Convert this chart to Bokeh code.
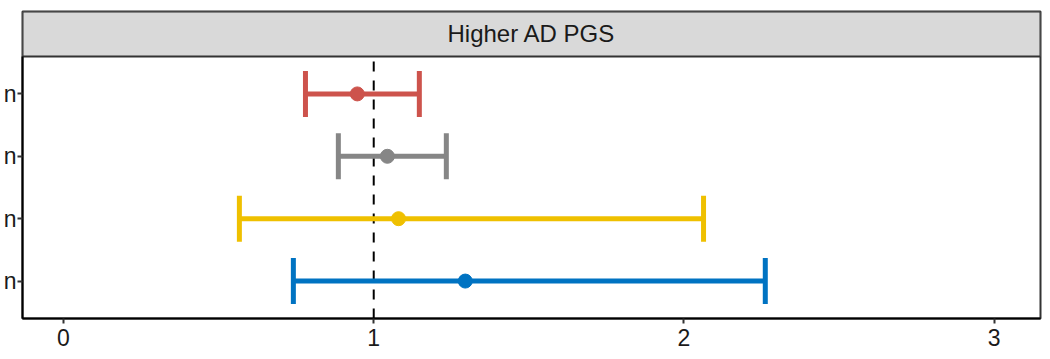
from bokeh.plotting import figure
from bokeh.models import ColumnDataSource, FixedTicker, Range1d
from bokeh.core.properties import value
from bokeh.embed import file_html
from bokeh.resources import INLINE

# ---- data ----
groups = ["n", "n", "n", "n"]          # visible (clipped) ends of the y labels, bottom to top
positions = [1, 2, 3, 4]
estimate = [1.295, 1.080, 1.044, 0.947]
lower = [0.741, 0.567, 0.886, 0.780]
upper = [2.262, 2.063, 1.234, 1.147]
colors = ["#0073C2", "#EFC000", "#868686", "#CD534C"]
x_ticks = [0, 1, 2, 3]
ref_x = 1
facet_label = "Higher AD PGS"

FONT = "Liberation Sans"
cap_half = 0.369
x_lo, x_hi = -0.132, 3.149
y_lo, panel_top, y_hi = 0.4, 4.6, 5.321

src = ColumnDataSource(dict(
    pos=positions, est=estimate, lo=lower, hi=upper, color=colors,
    cap_bot=[p - cap_half for p in positions],
    cap_top=[p + cap_half for p in positions],
))

p = figure(frame_width=1018, frame_height=307, output_backend="svg", toolbar_location=None,
           x_range=Range1d(x_lo, x_hi), y_range=Range1d(y_lo, y_hi),
           min_border_top=11, min_border_left=0, min_border_right=2, min_border_bottom=40)
p.background_fill_color = "white"
p.border_fill_color = "white"
p.outline_line_color = "#333333"
p.outline_line_width = 2
p.xgrid.visible = False
p.ygrid.visible = False

# facet strip
p.quad(left=x_lo, right=x_hi, bottom=panel_top, top=y_hi,
       fill_color="#D9D9D9", line_color="#333333", line_width=2)
p.text(x=[(x_lo + x_hi) / 2], y=[(panel_top + y_hi) / 2], text=[facet_label],
       text_font=value(FONT), text_font_size="24px", text_color="#1A1A1A",
       text_align="center", text_baseline="middle")

# reference line
p.segment(x0=[ref_x], y0=[y_lo], x1=[ref_x], y1=[panel_top],
          line_color="black", line_width=2, line_dash="10 9")

# error bars
p.segment(x0="lo", y0="pos", x1="hi", y1="pos", source=src, line_color="color", line_width=5)
p.segment(x0="lo", y0="cap_bot", x1="lo", y1="cap_top", source=src, line_color="color", line_width=5)
p.segment(x0="hi", y0="cap_bot", x1="hi", y1="cap_top", source=src, line_color="color", line_width=5)
p.scatter(x="est", y="pos", source=src, size=14, fill_color="color", line_color="color")

# axes
p.xaxis.ticker = FixedTicker(ticks=x_ticks)
p.yaxis.ticker = FixedTicker(ticks=positions)
p.yaxis.major_label_overrides = {pp: g for pp, g in zip(positions, groups)}
p.yaxis.bounds = (y_lo, panel_top)
for ax in (p.xaxis[0], p.yaxis[0]):
    ax.axis_line_color = "black"
    ax.axis_line_width = 2
    ax.major_tick_line_color = "#333333"
    ax.major_tick_line_width = 2
    ax.major_tick_out = 5
    ax.major_tick_in = 0
    ax.minor_tick_line_color = None
    ax.major_label_text_font = FONT
    ax.major_label_text_font_size = "23px"
    ax.major_label_text_color = "#1A1A1A"
p.xaxis.major_label_standoff = 5
p.yaxis.major_label_standoff = 1

open("out.html", "w").write(file_html(p, INLINE))
